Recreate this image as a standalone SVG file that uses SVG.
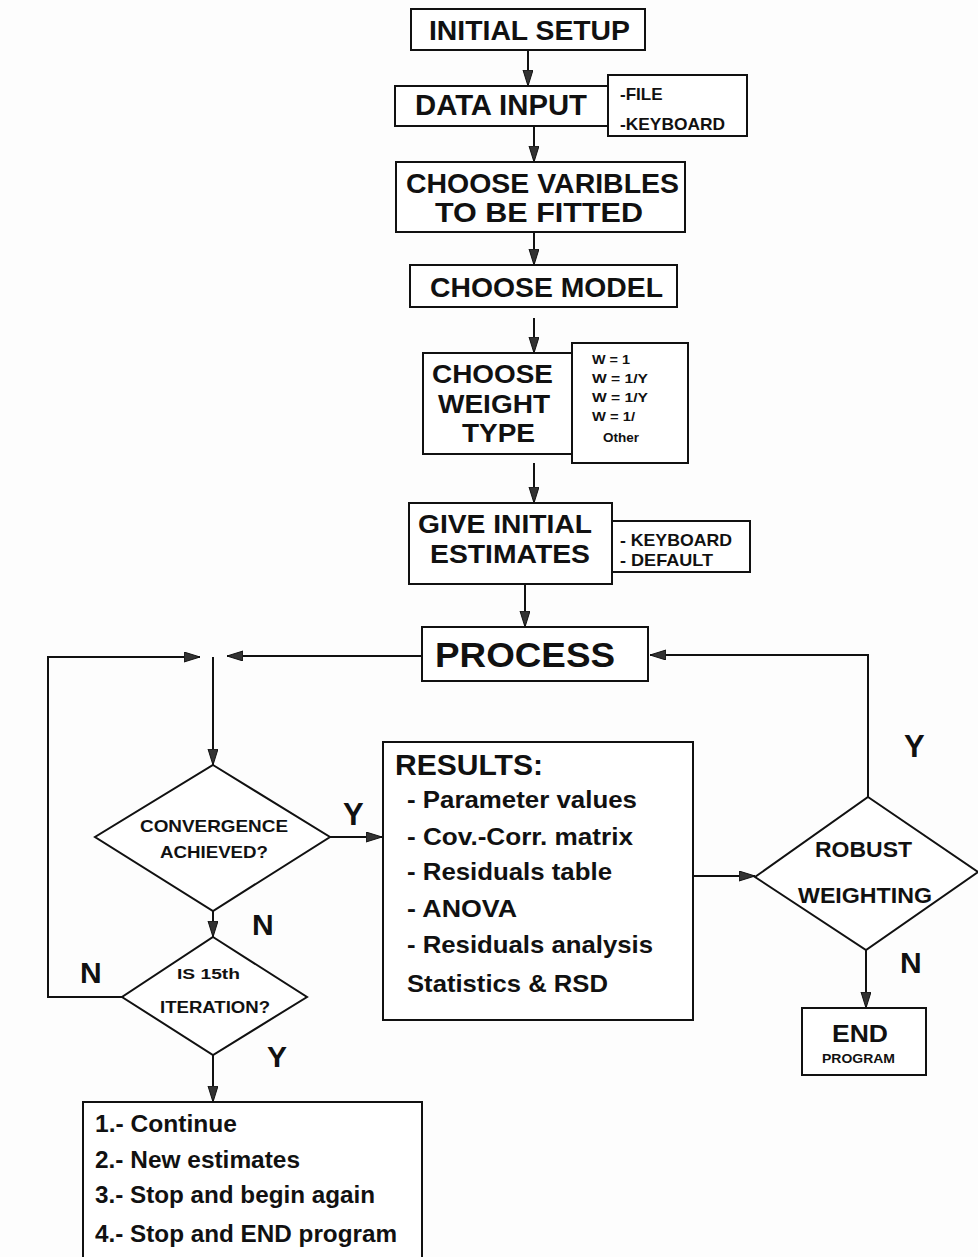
<svg xmlns="http://www.w3.org/2000/svg" width="978" height="1257" viewBox="0 0 978 1257">
<style>
  .box { fill: #fff; stroke: #111; stroke-width: 2; }
  .ln { fill: none; stroke: #111; stroke-width: 2; }
  text { font-family: "Liberation Sans", Arial, sans-serif; font-weight: bold; fill: #111; }
</style>
<defs>
  <marker id="ah" markerUnits="userSpaceOnUse" markerWidth="18" markerHeight="12" refX="16" refY="5" orient="auto">
    <path d="M0,0 L16,5 L0,10 Z" fill="#333" stroke="#111" stroke-width="1"/>
  </marker>
</defs>
<rect width="978" height="1257" fill="#fdfdfd"/>

<g id="connectors">
  <line class="ln" x1="528" y1="50" x2="528" y2="86" marker-end="url(#ah)"/>
  <line class="ln" x1="534" y1="126" x2="534" y2="162" marker-end="url(#ah)"/>
  <line class="ln" x1="534" y1="232" x2="534" y2="265" marker-end="url(#ah)"/>
  <line class="ln" x1="534" y1="318" x2="534" y2="353" marker-end="url(#ah)"/>
  <line class="ln" x1="534" y1="463" x2="534" y2="503" marker-end="url(#ah)"/>
  <line class="ln" x1="525" y1="584" x2="525" y2="627" marker-end="url(#ah)"/>
  <line class="ln" x1="422" y1="656" x2="227" y2="656" marker-end="url(#ah)"/>
  <polyline class="ln" points="122,997 48,997 48,657 200,657" marker-end="url(#ah)"/>
  <line class="ln" x1="213" y1="657" x2="213" y2="765" marker-end="url(#ah)"/>
  <line class="ln" x1="330" y1="837" x2="382" y2="837" marker-end="url(#ah)"/>
  <line class="ln" x1="213" y1="911" x2="213" y2="937" marker-end="url(#ah)"/>
  <line class="ln" x1="213" y1="1055" x2="213" y2="1102" marker-end="url(#ah)"/>
  <line class="ln" x1="693" y1="876" x2="755" y2="876" marker-end="url(#ah)"/>
  <polyline class="ln" points="868,797 868,655 650,655" marker-end="url(#ah)"/>
  <line class="ln" x1="866" y1="950" x2="866" y2="1008" marker-end="url(#ah)"/>
  <text x="343" y="825" font-size="31">Y</text>
  <text x="252" y="935" font-size="30">N</text>
  <text x="80" y="983" font-size="30">N</text>
  <text x="267" y="1067" font-size="30">Y</text>
  <text x="904" y="757" font-size="31">Y</text>
  <text x="900" y="973" font-size="30">N</text>
</g>

<g id="initial-setup">
  <rect class="box" x="411" y="9" width="234" height="41"/>
  <text x="429" y="40" font-size="27" textLength="201" lengthAdjust="spacingAndGlyphs">INITIAL SETUP</text>
</g>

<g id="data-input">
  <rect class="box" x="608" y="75" width="139" height="61"/>
  <rect class="box" x="395" y="86" width="213" height="40"/>
  <text x="415" y="115" font-size="30" textLength="172" lengthAdjust="spacingAndGlyphs">DATA INPUT</text>
  <text x="620" y="100" font-size="17">-FILE</text>
  <text x="620" y="130" font-size="17" textLength="105" lengthAdjust="spacingAndGlyphs">-KEYBOARD</text>
</g>

<g id="choose-variables">
  <rect class="box" x="396" y="162" width="289" height="70"/>
  <text x="406" y="193" font-size="27" textLength="273" lengthAdjust="spacingAndGlyphs">CHOOSE VARIBLES</text>
  <text x="435" y="222" font-size="27" textLength="208" lengthAdjust="spacingAndGlyphs">TO BE FITTED</text>
</g>

<g id="choose-model">
  <rect class="box" x="410" y="265" width="267" height="42"/>
  <text x="430" y="297" font-size="28" textLength="233" lengthAdjust="spacingAndGlyphs">CHOOSE MODEL</text>
</g>

<g id="choose-weight">
  <rect class="box" x="572" y="343" width="116" height="120"/>
  <rect class="box" x="423" y="353" width="149" height="101"/>
  <text x="432" y="383" font-size="26" textLength="121" lengthAdjust="spacingAndGlyphs">CHOOSE</text>
  <text x="438" y="413" font-size="26" textLength="112" lengthAdjust="spacingAndGlyphs">WEIGHT</text>
  <text x="462" y="442" font-size="26" textLength="73" lengthAdjust="spacingAndGlyphs">TYPE</text>
  <text x="592" y="364" font-size="13" textLength="38" lengthAdjust="spacingAndGlyphs">W = 1</text>
  <text x="592" y="383" font-size="13" textLength="56" lengthAdjust="spacingAndGlyphs">W = 1/Y</text>
  <text x="592" y="402" font-size="13" textLength="56" lengthAdjust="spacingAndGlyphs">W = 1/Y</text>
  <text x="592" y="421" font-size="13" textLength="43" lengthAdjust="spacingAndGlyphs">W = 1/</text>
  <text x="603" y="442" font-size="13" textLength="36" lengthAdjust="spacingAndGlyphs">Other</text>
</g>

<g id="initial-estimates">
  <rect class="box" x="612" y="521" width="138" height="51"/>
  <rect class="box" x="409" y="503" width="203" height="81"/>
  <text x="418" y="533" font-size="26" textLength="174" lengthAdjust="spacingAndGlyphs">GIVE INITIAL</text>
  <text x="430" y="563" font-size="26" textLength="160" lengthAdjust="spacingAndGlyphs">ESTIMATES</text>
  <text x="620" y="546" font-size="17" textLength="112" lengthAdjust="spacingAndGlyphs">- KEYBOARD</text>
  <text x="620" y="566" font-size="17" textLength="93" lengthAdjust="spacingAndGlyphs">- DEFAULT</text>
</g>

<g id="process">
  <rect class="box" x="422" y="627" width="226" height="54"/>
  <text x="435" y="667" font-size="35" textLength="180" lengthAdjust="spacingAndGlyphs">PROCESS</text>
</g>

<g id="convergence">
  <polygon class="box" points="213,765 330,837 213,911 95,837"/>
  <text x="140" y="832" font-size="17" textLength="148" lengthAdjust="spacingAndGlyphs">CONVERGENCE</text>
  <text x="160" y="858" font-size="17" textLength="108" lengthAdjust="spacingAndGlyphs">ACHIEVED?</text>
</g>

<g id="iteration">
  <polygon class="box" points="213,937 307,997 213,1055 122,997"/>
  <text x="177" y="979" font-size="15" textLength="63" lengthAdjust="spacingAndGlyphs">IS 15th</text>
  <text x="160" y="1013" font-size="16" textLength="110" lengthAdjust="spacingAndGlyphs">ITERATION?</text>
</g>

<g id="results">
  <rect class="box" x="383" y="742" width="310" height="278"/>
  <text x="395" y="775" font-size="30" textLength="148" lengthAdjust="spacingAndGlyphs">RESULTS:</text>
  <text x="407" y="808" font-size="24" textLength="230" lengthAdjust="spacingAndGlyphs">- Parameter values</text>
  <text x="407" y="845" font-size="24" textLength="226" lengthAdjust="spacingAndGlyphs">- Cov.-Corr. matrix</text>
  <text x="407" y="880" font-size="24" textLength="205" lengthAdjust="spacingAndGlyphs">- Residuals table</text>
  <text x="407" y="917" font-size="24" textLength="110" lengthAdjust="spacingAndGlyphs">- ANOVA</text>
  <text x="407" y="953" font-size="24" textLength="246" lengthAdjust="spacingAndGlyphs">- Residuals analysis</text>
  <text x="407" y="992" font-size="24" textLength="201" lengthAdjust="spacingAndGlyphs">Statistics &amp; RSD</text>
</g>

<g id="robust">
  <polygon class="box" points="868,797 978,872 866,950 755,877"/>
  <text x="815" y="857" font-size="22" textLength="97" lengthAdjust="spacingAndGlyphs">ROBUST</text>
  <text x="798" y="903" font-size="22" textLength="134" lengthAdjust="spacingAndGlyphs">WEIGHTING</text>
</g>

<g id="end">
  <rect class="box" x="802" y="1008" width="124" height="67"/>
  <text x="832" y="1042" font-size="23" textLength="56" lengthAdjust="spacingAndGlyphs">END</text>
  <text x="822" y="1063" font-size="13" textLength="73" lengthAdjust="spacingAndGlyphs">PROGRAM</text>
</g>

<g id="options">
  <rect class="box" x="83" y="1102" width="339" height="170"/>
  <text x="95" y="1132" font-size="23" textLength="142" lengthAdjust="spacingAndGlyphs">1.- Continue</text>
  <text x="95" y="1168" font-size="23" textLength="205" lengthAdjust="spacingAndGlyphs">2.- New estimates</text>
  <text x="95" y="1203" font-size="23" textLength="280" lengthAdjust="spacingAndGlyphs">3.- Stop and begin again</text>
  <text x="95" y="1242" font-size="23" textLength="302" lengthAdjust="spacingAndGlyphs">4.- Stop and END program</text>
</g>
</svg>
